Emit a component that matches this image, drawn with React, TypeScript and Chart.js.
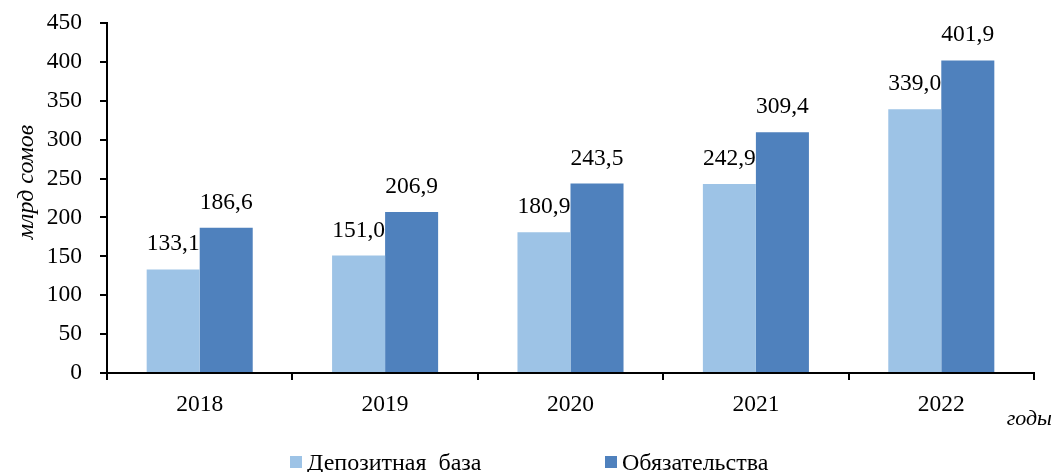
import React, { useEffect, useRef } from "react";
import { Chart, registerables } from "chart.js";

Chart.register(...registerables);

const categories = ["2018", "2019", "2020", "2021", "2022"];
const depositBase = [133.1, 151.0, 180.9, 242.9, 339.0];
const liabilities = [186.6, 206.9, 243.5, 309.4, 401.9];
const seriesNames = ["Депозитная  база", "Обязательства"];
const seriesColors = ["#9DC3E6", "#4F81BD"];
const yMin = 0;
const yMax = 450;
const yStep = 50;
const yTitle = "млрд сомов";
const xTitle = "годы";

const FONT = "'Liberation Serif', 'Times New Roman', serif";
const FS = 23.5;

const fmt = (v: number) => v.toFixed(1).replace(".", ",");

const valueLabels = {
  id: "valueLabels",
  afterDatasetsDraw(chart: any) {
    const ctx = chart.ctx;
    ctx.save();
    ctx.font = `${FS}px ${FONT}`;
    ctx.fillStyle = "#000";
    ctx.textAlign = "center";
    ctx.textBaseline = "alphabetic";
    chart.data.datasets.forEach((ds: any, i: number) => {
      const meta = chart.getDatasetMeta(i);
      meta.data.forEach((el: any, j: number) => {
        ctx.fillText(fmt(ds.data[j]), el.x, el.y - 19);
      });
    });
    ctx.restore();
  },
};

const axisTitles = {
  id: "axisTitles",
  afterDraw(chart: any) {
    const ctx = chart.ctx;
    ctx.save();
    ctx.fillStyle = "#000";
    ctx.font = `italic 24px ${FONT}`;
    ctx.translate(33, 182);
    ctx.rotate(-Math.PI / 2);
    ctx.textAlign = "center";
    ctx.textBaseline = "alphabetic";
    ctx.fillText(yTitle, 0, 0);
    ctx.restore();
    ctx.save();
    ctx.fillStyle = "#000";
    ctx.font = `italic 22px ${FONT}`;
    ctx.textAlign = "right";
    ctx.textBaseline = "alphabetic";
    ctx.fillText(xTitle, 1052, 425);
    ctx.restore();
  },
};

const customLegend = {
  id: "customLegend",
  afterDraw(chart: any) {
    const ctx = chart.ctx;
    const starts = [290, 605];
    ctx.save();
    ctx.font = `24px ${FONT}`;
    ctx.textBaseline = "alphabetic";
    ctx.textAlign = "left";
    chart.data.datasets.forEach((ds: any, i: number) => {
      const x = starts[i];
      ctx.fillStyle = ds.backgroundColor;
      ctx.fillRect(x, 456, 12, 12);
      ctx.fillStyle = "#000";
      ctx.fillText(ds.label, x + 17, 470);
    });
    ctx.restore();
  },
};

export default function App() {
  const ref = useRef<HTMLCanvasElement | null>(null);
  useEffect(() => {
    if (!ref.current) return;
    const chart = new Chart(ref.current, {
      type: "bar",
      data: {
        labels: categories,
        datasets: [
          {
            label: seriesNames[0],
            data: depositBase,
            backgroundColor: seriesColors[0],
            categoryPercentage: 0.572,
            barPercentage: 1,
          },
          {
            label: seriesNames[1],
            data: liabilities,
            backgroundColor: seriesColors[1],
            categoryPercentage: 0.572,
            barPercentage: 1,
          },
        ],
      },
      options: {
        animation: false,
        responsive: true,
        maintainAspectRatio: false,
        layout: { padding: { left: 0, right: 24, top: 23, bottom: 0 } },
        plugins: {
          legend: { display: false },
          tooltip: { enabled: false },
        },
        scales: {
          x: {
            grid: {
              display: true,
              drawOnChartArea: false,
              drawTicks: true,
              tickLength: 7,
              color: "#000",
              lineWidth: 2,
            },
            border: { display: true, color: "#000", width: 2 },
            ticks: {
              color: "#000",
              font: { family: FONT, size: FS },
              padding: 11,
              maxRotation: 0,
            },
            afterFit: (s: any) => {
              s.height = 99;
              s.paddingLeft = 0;
              s.paddingRight = 0;
            },
          },
          y: {
            min: yMin,
            max: yMax,
            grid: {
              display: true,
              drawOnChartArea: false,
              drawTicks: true,
              tickLength: 7,
              color: "#000",
              lineWidth: 2,
            },
            border: { display: true, color: "#000", width: 2 },
            ticks: {
              stepSize: yStep,
              color: "#000",
              font: { family: FONT, size: FS },
              padding: 18,
            },
            afterFit: (s: any) => {
              s.width = 107;
              s.paddingTop = 0;
              s.paddingBottom = 0;
            },
          },
        },
      },
      plugins: [valueLabels, axisTitles, customLegend],
    });
    return () => chart.destroy();
  }, []);
  return (
    <div style={{ position: "absolute", left: 0, top: 0, width: 1058, height: 472, background: "#fff" }}>
      <canvas ref={ref} />
    </div>
  );
}
